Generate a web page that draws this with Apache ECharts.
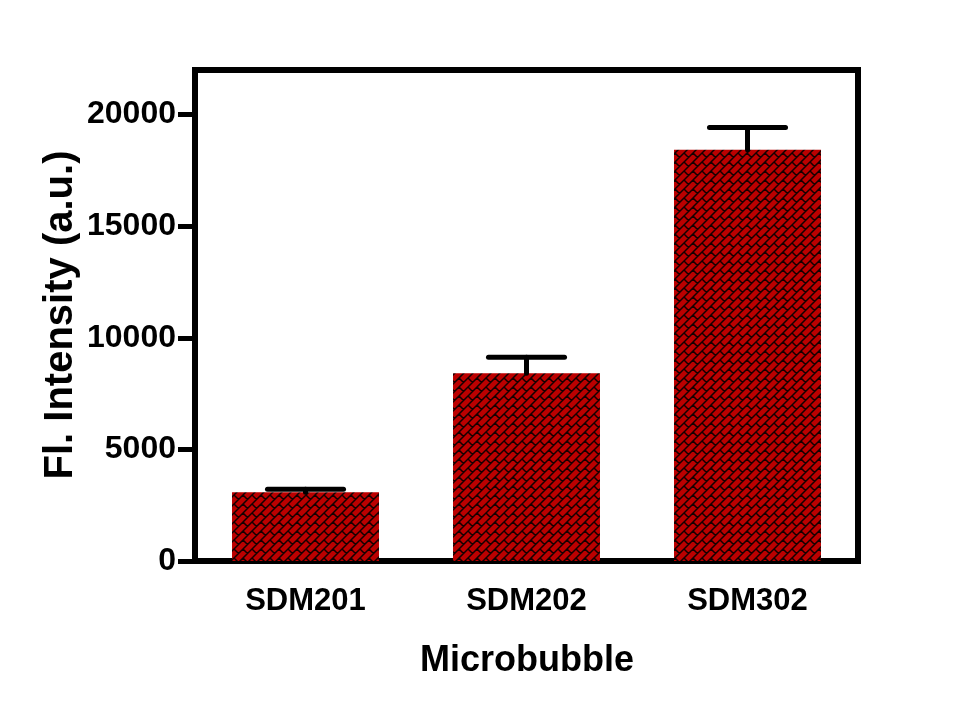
<!DOCTYPE html>
<html>
<head>
<meta charset="utf-8">
<script src="https://cdn.jsdelivr.net/npm/echarts@6/dist/echarts.min.js"></script>
<style>
  html, body { margin: 0; padding: 0; background: #fff; }
  #chart { width: 960px; height: 720px; }
</style>
</head>
<body>
<div id="chart"></div>
<script>
// data
var categories = ['SDM201', 'SDM202', 'SDM302'];
var intensity = [3080, 8410, 18430];
var errorTop = [3220, 9130, 19420];
var yTicks = [0, 5000, 10000, 15000, 20000];
var yMax = 22000;

// brick pattern tile, bricks run along the "/" diagonal
function brickTile() {
    var d = 9, T = 2 * d;
    var c = document.createElement('canvas');
    c.width = T; c.height = T;
    var ctx = c.getContext('2d');
    ctx.fillStyle = '#bb0000';
    ctx.fillRect(0, 0, T, T);
    ctx.strokeStyle = '#140000';
    ctx.lineWidth = 1.5;
    ctx.beginPath();
    for (var k = -3; k <= 7; k++) {
        // row line x + y = d*k
        ctx.moveTo(d * k + 30, -30);
        ctx.lineTo(d * k - 30, 30);
        var par = ((k % 2) + 2) % 2;
        for (var m = -3; m <= 3; m++) {
            var e = 2 * d * m + d * par;
            ctx.moveTo((d * k + e) / 2, (d * k - e) / 2);
            ctx.lineTo((d * k + d + e) / 2, (d * k + d - e) / 2);
        }
    }
    ctx.stroke();
    return c;
}

var font = 'Liberation Sans, Arial, sans-serif';
var chart = echarts.init(document.getElementById('chart'));

var option = {
    animation: false,
    backgroundColor: '#fff',
    grid: {
        left: 195, right: 102, top: 70, bottom: 159,
        show: true, borderColor: '#000', borderWidth: 6
    },
    xAxis: {
        type: 'category',
        data: categories,
        axisLine: { lineStyle: { color: '#000', width: 6 } },
        axisTick: { alignWithLabel: true, length: 17, lineStyle: { color: '#000', width: 4 } },
        axisLabel: { color: '#000', fontFamily: font, fontWeight: 'bold', fontSize: 31, margin: 25 }
    },
    yAxis: {
        type: 'value',
        min: 0,
        max: yMax,
        splitLine: { show: false },
        axisLine: { show: true, lineStyle: { color: '#000', width: 6 } },
        axisTick: { show: true, length: 17, customValues: yTicks, lineStyle: { color: '#000', width: 5 } },
        axisLabel: {
            color: '#000', fontFamily: font, fontWeight: 'bold', fontSize: 32, margin: 19,
            customValues: yTicks,
            formatter: function (v) { return String(v); }
        }
    },
    graphic: [
        {
            type: 'text',
            x: 527, y: 661,
            style: { text: 'Microbubble', fill: '#000', font: 'bold 36px ' + font, align: 'center', verticalAlign: 'middle' }
        },
        {
            type: 'text',
            x: 61, y: 315, rotation: Math.PI / 2,
            style: { text: 'Fl. Intensity (a.u.)', fill: '#000', font: 'bold 40px ' + font, align: 'center', verticalAlign: 'middle' }
        }
    ],
    series: [
        {
            type: 'bar',
            data: intensity,
            barCategoryGap: '33.5%',
            itemStyle: { color: { image: brickTile(), repeat: 'repeat' } },
            z: 2
        },
        {
            type: 'custom',
            data: categories.map(function (c, i) { return [i, intensity[i], errorTop[i]]; }),
            z: 3,
            renderItem: function (params, api) {
                var lo = api.coord([api.value(0), api.value(1)]);
                var hi = api.coord([api.value(0), api.value(2)]);
                var half = api.size([1, 0])[0] * 0.172;
                var style = { stroke: '#000', lineWidth: 5, lineCap: 'round' };
                return {
                    type: 'group',
                    children: [
                        { type: 'line', shape: { x1: lo[0], y1: lo[1], x2: hi[0], y2: hi[1] }, style: style },
                        { type: 'line', shape: { x1: hi[0] - half, y1: hi[1], x2: hi[0] + half, y2: hi[1] }, style: style }
                    ]
                };
            }
        }
    ]
};
chart.setOption(option);
</script>
</body>
</html>
